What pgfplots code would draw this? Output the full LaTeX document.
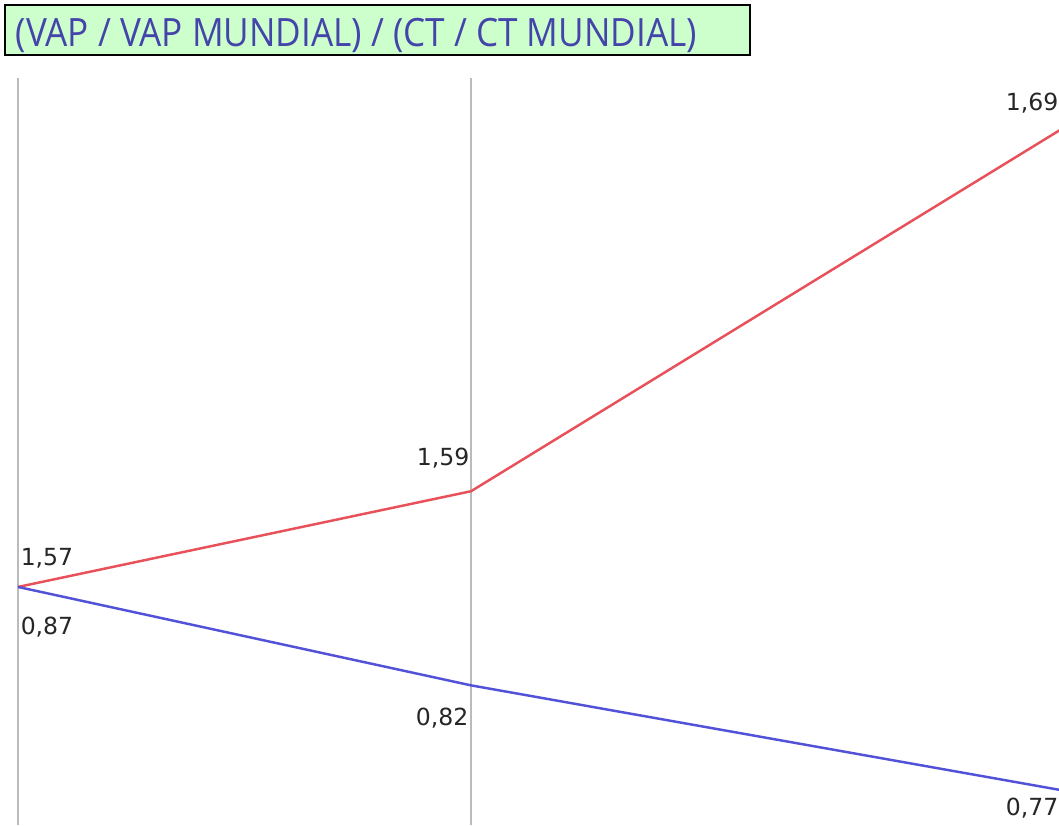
\documentclass[border=0pt]{standalone}
\usepackage{fontspec}
\setmainfont{DejaVu Sans}
\newfontfamily\titlefont{Open Sans}
\usepackage{pgfplots}
\pgfplotsset{compat=1.18}
\definecolor{lineRed}{HTML}{E8505A}
\definecolor{lineBlue}{HTML}{5252D8}
\definecolor{titleGreen}{HTML}{CCFFCC}
\definecolor{titleText}{HTML}{4444AA}
\definecolor{gridGray}{HTML}{BBBBBB}
\definecolor{labGray}{HTML}{262626}

\pgfplotsset{
  labelled/.style={
    nodes near coords,
    point meta=explicit symbolic,
    visualization depends on={value \thisrow{dx} \as \dx},
    visualization depends on={value \thisrow{dy} \as \dy},
    nodes near coords style={anchor=center, inner sep=0pt, text=labGray,
      font=\fontsize{6.7}{8}\selectfont,
      xshift=\dx*0.01cm, yshift=\dy*0.01cm},
  },
}

\begin{document}
\begin{tikzpicture}
\useasboundingbox (0,0) rectangle (10.59,8.25);
\clip (0,0) rectangle (10.59,8.25);
\fill[white] (0,0) rectangle (10.59,8.25);

% red series, own scale
\begin{axis}[
  at={(0.18cm,0cm)}, anchor=south west,
  scale only axis, width=10.42cm, height=7.47cm,
  xmin=0, xmax=2.3, ymin=1.5021, ymax=1.7089,
  clip=false,
  xtick={0,1}, xticklabels={}, ytick=\empty,
  xmajorgrids, major grid style={gridGray, line width=0.6pt},
  axis line style={draw=none}, major tick length=0pt,
]
\addplot[lineRed, line width=0.7pt, labelled] table[meta=lab] {
x y lab dx dy
0 1.568 1,57 29 29
1 1.5945 1,59 -28 33
2.3 1.6945 1,69 -28 27
};
\end{axis}

% blue series, own scale
\begin{axis}[
  at={(0.18cm,0cm)}, anchor=south west,
  scale only axis, width=10.42cm, height=7.47cm,
  xmin=0, xmax=2.3, ymin=0.7539, ymax=1.1182,
  clip=false, hide axis,
]
\addplot[lineBlue, line width=0.7pt, labelled] table[meta=lab] {
x y lab dx dy
0 0.870 0,87 29 -40
1 0.822 0,82 -29 -33
2.3 0.771 0,77 -28 -18
};
\end{axis}

\draw[black, line width=0.6pt, fill=titleGreen] (0.05,7.70) rectangle (7.50,8.20);
\node[anchor=base west, inner sep=0pt, text=titleText] at (0.15,7.78)
  {\scalebox{0.90}[1]{\titlefont\fontsize{11.1}{13}\selectfont (VAP / VAP MUNDIAL) / (CT / CT MUNDIAL)}};
\end{tikzpicture}
\end{document}
